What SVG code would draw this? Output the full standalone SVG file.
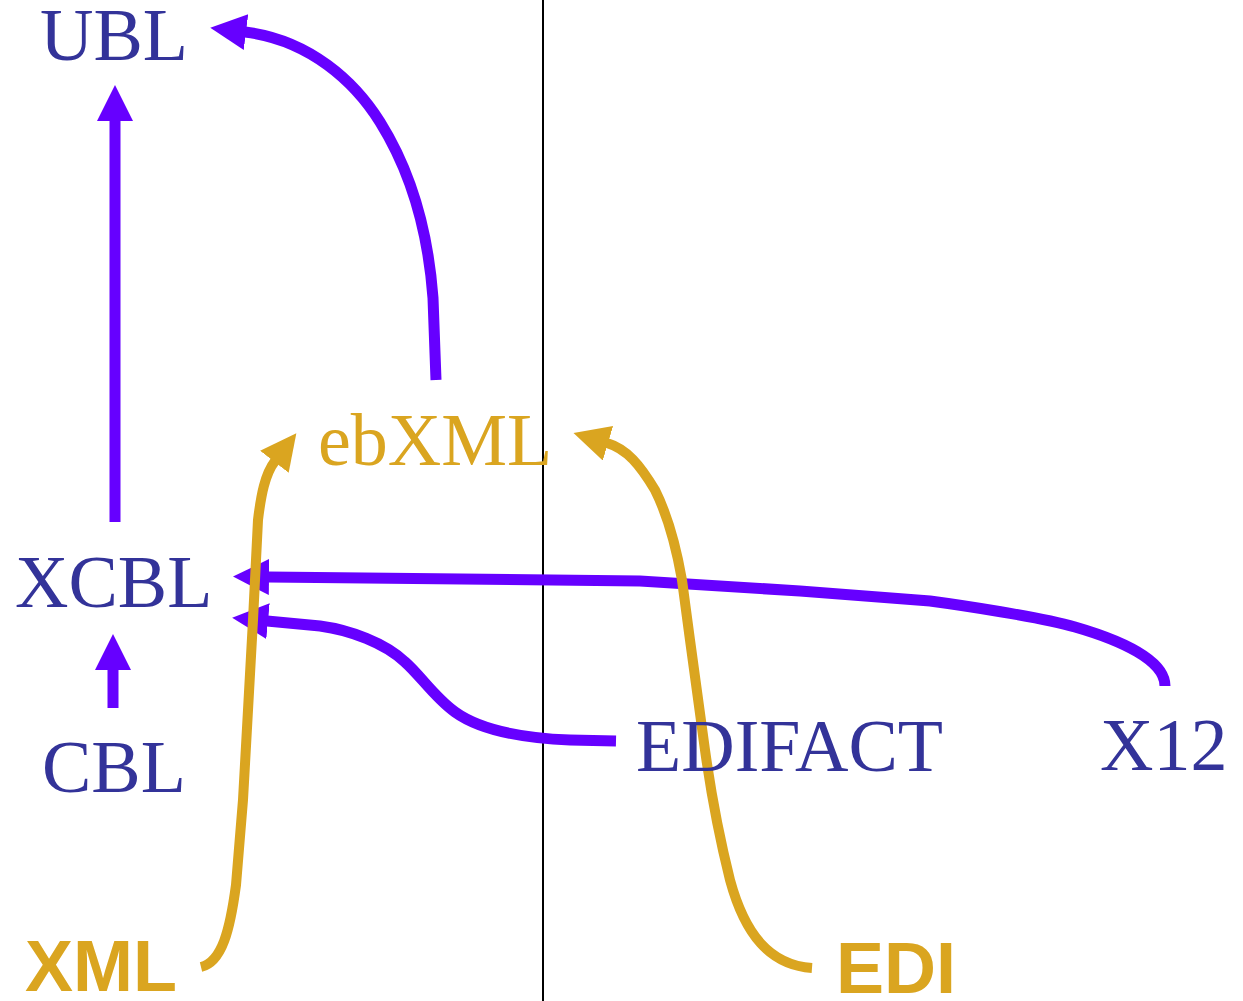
<svg xmlns="http://www.w3.org/2000/svg" width="1243" height="1001" viewBox="0 0 1243 1001">
<style>
.t{font-family:"Liberation Serif","Times New Roman",serif;font-size:74px;fill:#333399}
.g{fill:#DAA520}
.b{font-family:"Liberation Sans",Arial,sans-serif;font-weight:bold;font-size:72px;fill:#DAA520}
.p{fill:none;stroke:#6600FF;stroke-width:11;marker-end:url(#ap)}
.o{fill:none;stroke:#DAA520;stroke-width:10;marker-end:url(#ag)}
</style>
<defs>
<marker id="ap" markerUnits="userSpaceOnUse" markerWidth="40" markerHeight="40" refX="1" refY="18" orient="auto"><path d="M0,0 L36,18 L0,36 z" fill="#6600FF"/></marker>
<marker id="ag" markerUnits="userSpaceOnUse" markerWidth="40" markerHeight="40" refX="1" refY="18" orient="auto"><path d="M0,0 L36,18 L0,36 z" fill="#DAA520"/></marker>
</defs>
<rect width="1243" height="1001" fill="#fff"/>
<line x1="543" y1="0" x2="543" y2="1001" stroke="#000" stroke-width="2"/>
<g id="connectors">
<path class="p" d="M113,708 L113,669"/>
<path class="p" d="M115,522 L115,120"/>
<path class="p" d="M436,380 L433,298 C428,230 410,170 380,122 C355,82 310,40 245,32"/>
<path class="p" d="M1165,686 C1165,660 1120,640 1075,627 C1040,617 960,605 930,601 L800,591 L640,581 L268,577"/>
<path class="p" d="M616,741 L570,740 C520,738 480,730 455,712 C435,698 420,675 405,662 C385,643 350,630 320,626 L267,621"/>
<path class="o" d="M201,967 C222,962 230,930 236,885 L243,800 L253,620 L258,520 C261,495 265,474 275,461"/>
<path class="o" d="M812,968 C770,965 745,935 730,880 C720,840 712,800 705,750 L690,640 L682,580 C675,540 665,510 655,490 C640,465 627,449 607,443"/>
</g>
<g id="UBL"><text class="t" x="40" y="60">UBL</text></g>
<g id="XCBL"><text class="t" x="15" y="607">XCBL</text></g>
<g id="CBL"><text class="t" x="42" y="792">CBL</text></g>
<g id="ebXML"><text class="t g" x="318" y="465">ebXML</text></g>
<g id="EDIFACT"><text class="t" x="636" y="771">EDIFACT</text></g>
<g id="X12"><text class="t" x="1100" y="770">X12</text></g>
<g id="XML"><text class="b" x="25" y="991">XML</text></g>
<g id="EDI"><text class="b" x="836" y="993">EDI</text></g>
</svg>
